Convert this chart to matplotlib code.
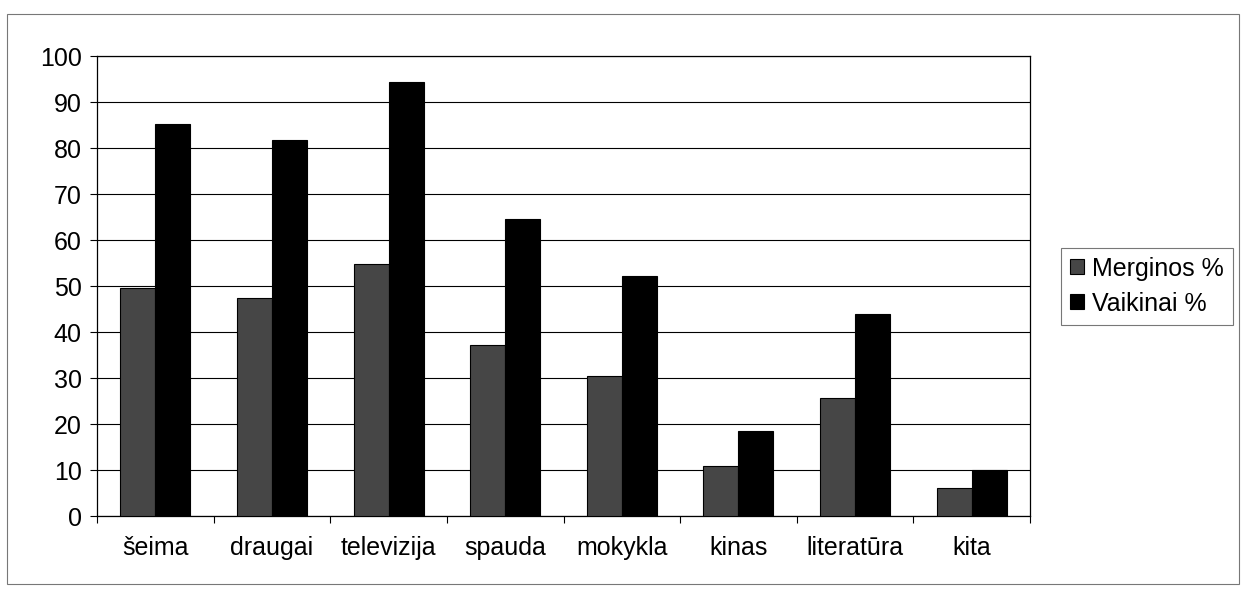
import numpy as np
import matplotlib
matplotlib.use('Agg')
from matplotlib import pyplot as plt
from matplotlib.patches import Rectangle

categories = ['šeima', 'draugai', 'televizija', 'spauda', 'mokykla',
              'kinas', 'literatūra', 'kita']
merginos = [49.5, 47.4, 54.8, 37.3, 30.4, 10.9, 25.7, 6.1]
vaikinai = [85.2, 81.7, 94.3, 64.7, 52.2, 18.5, 43.9, 10.0]
yticks = list(range(0, 101, 10))

plt.rcParams['font.family'] = ['Liberation Sans', 'DejaVu Sans']

fig = plt.figure(figsize=(12.44, 5.9), dpi=100)
ax = fig.add_axes([0.078, 0.125, 0.750, 0.780])

x = np.arange(len(categories))
w = 0.3
ax.bar(x - w / 2, merginos, w, color='#464646', edgecolor='black',
       linewidth=0.8, label='Merginos %', zorder=3)
ax.bar(x + w / 2, vaikinai, w, color='black', edgecolor='black',
       linewidth=0.8, label='Vaikinai %', zorder=3)

ax.set_xlim(-0.5, len(categories) - 0.5)
ax.set_ylim(0, 100)
ax.set_yticks(yticks)
ax.set_yticklabels([str(v) for v in yticks], fontsize=18)
ax.set_xticks(x)
ax.set_xticklabels(categories, fontsize=18)
ax.set_xticks(np.arange(len(categories) + 1) - 0.5, minor=True)
ax.tick_params(axis='x', which='major', length=0, pad=14)
ax.tick_params(axis='x', which='minor', length=5, width=0.8)
ax.tick_params(axis='y', length=5, width=0.8, pad=6)
ax.grid(axis='y', color='black', linewidth=0.8, zorder=0)
for s in ax.spines.values():
    s.set_linewidth(0.9)

leg = ax.legend(loc='center left', bbox_to_anchor=(1.02, 0.5),
                fontsize=18, frameon=True, fancybox=False,
                handlelength=0.55, handleheight=0.55, handletextpad=0.35,
                borderpad=0.35, labelspacing=0.45)
leg.get_frame().set_edgecolor('#555555')
leg.get_frame().set_linewidth(0.8)

fig.patches.append(Rectangle((0.006, 0.01), 0.99, 0.967, transform=fig.transFigure,
                             fill=False, edgecolor='#777777', linewidth=0.8))

fig.savefig('out.png', dpi=100)
